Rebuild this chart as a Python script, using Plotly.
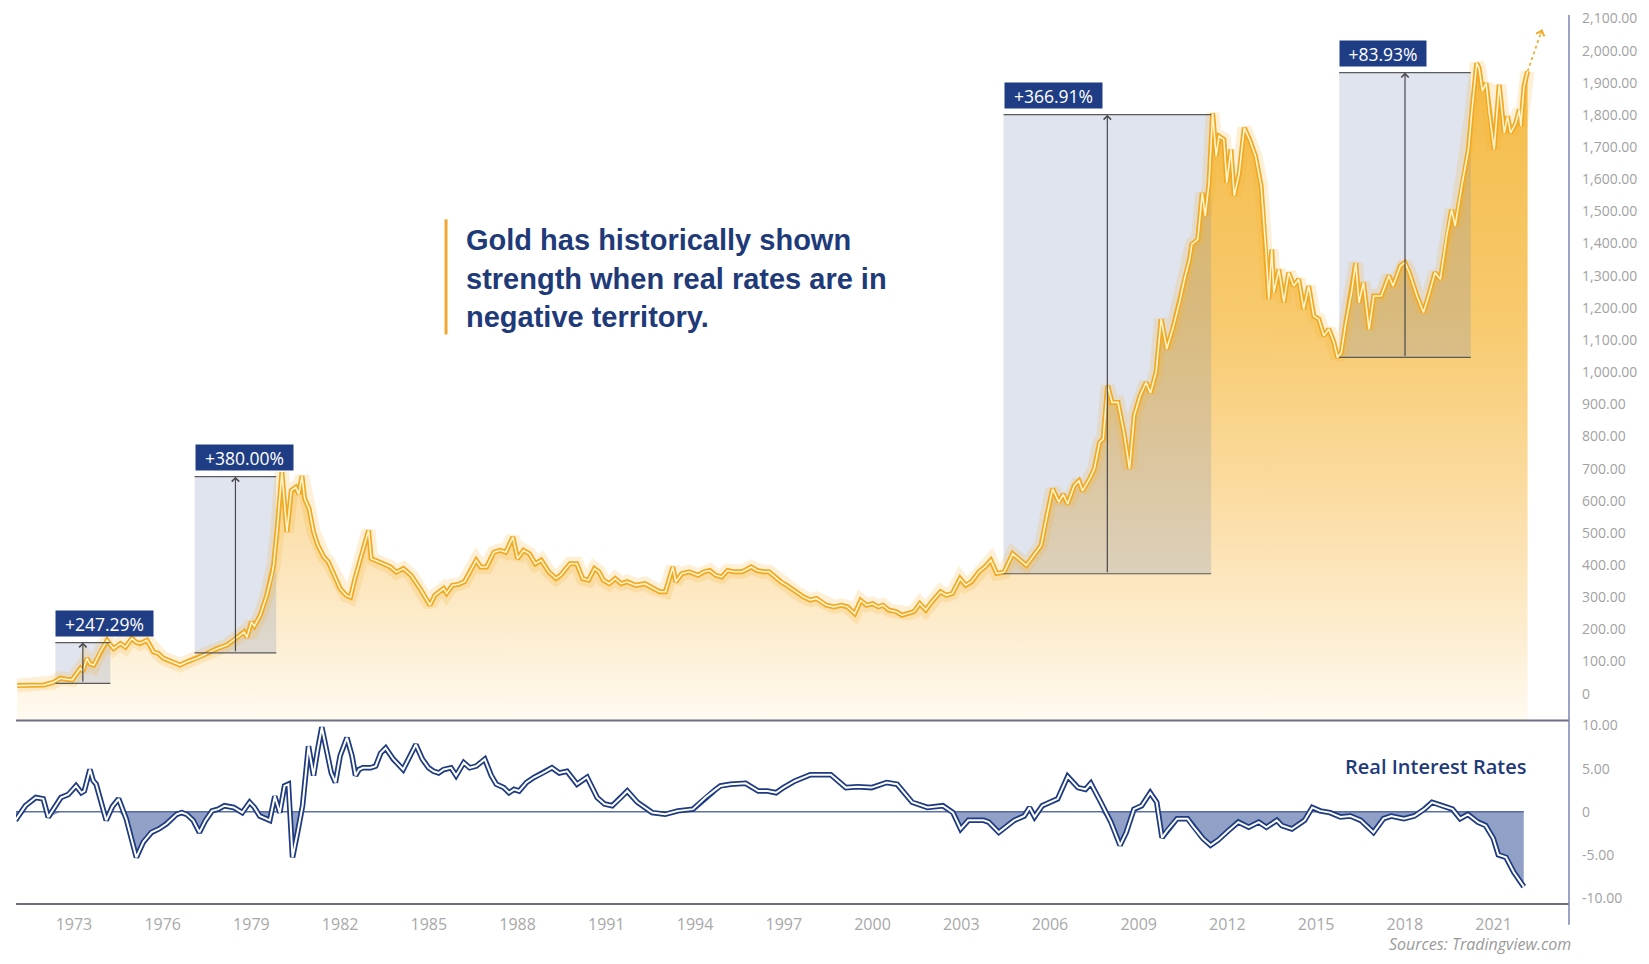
import plotly.graph_objects as go

# ---------------- data ----------------
gold_years = [1971.08, 1971.5, 1971.98, 1972.3, 1972.54, 1972.75, 1972.94, 1973.22, 1973.3, 1973.44,
              1973.55, 1973.67, 1973.89, 1974.12, 1974.25, 1974.34, 1974.57, 1974.74, 1974.96, 1975.1,
              1975.24, 1975.47, 1975.69, 1975.85, 1976.03, 1976.3, 1976.59, 1976.82, 1977.16, 1977.5,
              1977.83, 1978.17, 1978.4, 1978.62, 1978.75, 1978.85, 1979.0, 1979.1, 1979.3, 1979.52,
              1979.69, 1979.75, 1979.88, 1980.03, 1980.2, 1980.35, 1980.5, 1980.6, 1980.71, 1980.8,
              1980.95, 1981.1, 1981.25, 1981.45, 1981.6, 1981.8, 1982.0, 1982.2, 1982.35, 1982.5,
              1982.7, 1982.96, 1983.05, 1983.2, 1983.46, 1983.7, 1983.9, 1984.14, 1984.4, 1984.7,
              1985.04, 1985.2, 1985.38, 1985.5, 1985.6, 1985.8, 1986.0, 1986.2, 1986.6, 1986.75,
              1986.95, 1987.2, 1987.4, 1987.6, 1987.84, 1988.0, 1988.2, 1988.4, 1988.6, 1988.8,
              1989.05, 1989.3, 1989.45, 1989.77, 1990.0, 1990.2, 1990.4, 1990.6, 1990.75, 1990.9,
              1991.1, 1991.3, 1991.5, 1991.7, 1992.0, 1992.3, 1992.6, 1992.8, 1993.0, 1993.25,
              1993.35, 1993.55, 1993.8, 1994.1, 1994.3, 1994.5, 1994.7, 1994.9, 1995.1, 1995.3,
              1995.6, 1995.9, 1996.1, 1996.3, 1996.5, 1996.7, 1996.9, 1997.1, 1997.4, 1997.66,
              1997.9, 1998.1, 1998.44, 1998.7, 1998.95, 1999.15, 1999.4, 1999.6, 1999.8, 2000.0,
              2000.2, 2000.35, 2000.55, 2000.8, 2001.0, 2001.2, 2001.4, 2001.6, 2001.8, 2002.0,
              2002.3, 2002.5, 2002.7, 2002.96, 2003.15, 2003.35, 2003.6, 2003.8, 2004.0, 2004.2,
              2004.45, 2004.74, 2005.0, 2005.2, 2005.45, 2005.7, 2005.9, 2006.09, 2006.3, 2006.45,
              2006.6, 2006.82, 2006.98, 2007.1, 2007.34, 2007.5, 2007.68, 2007.8, 2007.95, 2008.1,
              2008.3, 2008.5, 2008.69, 2008.85, 2009.05, 2009.25, 2009.4, 2009.59, 2009.76, 2009.95,
              2010.15, 2010.38, 2010.55, 2010.72, 2010.8, 2011.0, 2011.15, 2011.25, 2011.38, 2011.5,
              2011.62, 2011.72, 2011.88, 2011.98, 2012.12, 2012.23, 2012.4, 2012.57, 2012.75, 2012.95,
              2013.14, 2013.3, 2013.4, 2013.5, 2013.57, 2013.74, 2013.91, 2014.07, 2014.24, 2014.41,
              2014.58, 2014.75, 2014.92, 2015.09, 2015.26, 2015.43, 2015.6, 2015.72, 2015.85, 2016.0,
              2016.2, 2016.34, 2016.45, 2016.6, 2016.79, 2016.95, 2017.2, 2017.46, 2017.6, 2017.85,
              2018.0, 2018.15, 2018.41, 2018.63, 2018.8, 2019.02, 2019.2, 2019.41, 2019.58, 2019.7,
              2019.92, 2020.15, 2020.26, 2020.43, 2020.51, 2020.62, 2020.75, 2020.85, 2021.02, 2021.19,
              2021.36, 2021.47, 2021.58, 2021.75, 2021.87, 2021.92, 2022.03, 2022.15]
gold_price = [25, 26, 27, 35, 48, 45, 43, 79, 70, 110,
              92, 89, 130, 166, 150, 140, 156, 145, 172, 160,
              156, 166, 130, 125, 110, 100, 89, 99, 110, 125,
              140, 151, 166, 182, 192, 175, 223, 210, 244, 306,
              369, 400, 520, 689, 503, 632, 642, 620, 677, 606,
              575, 503, 461, 425, 410, 368, 327, 306, 300, 358,
              420, 508, 420, 415, 404, 394, 378, 389, 368, 327,
              275, 306, 317, 327, 312, 337, 340, 348, 415, 394,
              394, 440, 446, 440, 487, 420, 446, 435, 404, 415,
              379, 358, 368, 404, 404, 358, 353, 389, 379, 353,
              342, 358, 342, 348, 337, 342, 327, 317, 317, 394,
              348, 373, 379, 368, 379, 383, 368, 363, 383, 379,
              379, 394, 383, 379, 379, 363, 348, 337, 317, 301,
              291, 296, 275, 270, 275, 270, 249, 290, 275, 280,
              270, 275, 260, 255, 244, 250, 255, 280, 260, 285,
              317, 306, 312, 358, 337, 348, 379, 394, 415, 374,
              378, 435, 415, 399, 430, 461, 555, 637, 596, 620,
              590, 647, 662, 631, 668, 699, 782, 792, 958, 906,
              906, 813, 699, 865, 927, 968, 935, 1000, 1165, 1072,
              1134, 1217, 1289, 1351, 1398, 1413, 1558, 1486, 1589, 1806,
              1672, 1734, 1724, 1589, 1693, 1548, 1620, 1760, 1724, 1672,
              1579, 1382, 1227, 1382, 1248, 1320, 1217, 1310, 1268, 1289,
              1196, 1268, 1175, 1165, 1113, 1134, 1093, 1046, 1060, 1150,
              1250, 1340, 1216, 1280, 1133, 1237, 1237, 1300, 1268, 1331,
              1341, 1310, 1237, 1186, 1237, 1310, 1289, 1423, 1506, 1455,
              1578, 1692, 1806, 1961, 1946, 1874, 1899, 1810, 1692, 1894,
              1744, 1796, 1744, 1775, 1817, 1765, 1889, 1936]

rate_years = [1971.02, 1971.36, 1971.71, 1971.96, 1972.13, 1972.56, 1972.81, 1973.07, 1973.25, 1973.35,
              1973.54, 1973.65, 1973.75, 1973.92, 1974.09, 1974.3, 1974.51, 1974.77, 1975.11, 1975.35,
              1975.62, 1975.87, 1976.13, 1976.47, 1976.64, 1976.81, 1977.03, 1977.24, 1977.45, 1977.67,
              1977.88, 1978.09, 1978.4, 1978.69, 1978.94, 1979.1, 1979.28, 1979.62, 1979.79, 1979.96,
              1980.12, 1980.25, 1980.39, 1980.56, 1980.73, 1980.93, 1981.1, 1981.24, 1981.38, 1981.58,
              1981.7, 1981.84, 1982.0, 1982.23, 1982.4, 1982.52, 1982.64, 1982.77, 1983.03, 1983.2,
              1983.37, 1983.54, 1983.8, 1984.13, 1984.4, 1984.56, 1984.78, 1984.99, 1985.16, 1985.33,
              1985.5, 1985.75, 1985.92, 1986.18, 1986.38, 1986.6, 1986.89, 1987.11, 1987.28, 1987.53,
              1987.71, 1987.88, 1988.05, 1988.3, 1988.56, 1988.86, 1989.16, 1989.41, 1989.67, 1990.01,
              1990.35, 1990.69, 1990.94, 1991.2, 1991.45, 1991.71, 1992.05, 1992.3, 1992.55, 1992.99,
              1993.42, 1993.93, 1994.35, 1994.7, 1994.86, 1995.2, 1995.71, 1996.14, 1996.45, 1996.74,
              1996.99, 1997.38, 1997.9, 1998.59, 1999.1, 1999.5, 1999.97, 2000.48, 2000.83, 2001.34,
              2001.86, 2002.38, 2002.72, 2002.98, 2003.24, 2003.76, 2003.93, 2004.27, 2004.79, 2005.13,
              2005.31, 2005.48, 2005.74, 2006.0, 2006.26, 2006.6, 2006.95, 2007.2, 2007.38, 2007.72,
              2008.06, 2008.37, 2008.58, 2008.84, 2009.1, 2009.39, 2009.61, 2009.79, 2009.96, 2010.3,
              2010.65, 2010.82, 2011.17, 2011.43, 2011.68, 2012.03, 2012.37, 2012.72, 2013.06, 2013.32,
              2013.67, 2013.84, 2014.18, 2014.61, 2014.87, 2015.13, 2015.47, 2015.82, 2016.16, 2016.51,
              2016.94, 2017.28, 2017.54, 2017.97, 2018.32, 2018.66, 2018.92, 2019.26, 2019.61, 2019.87,
              2020.13, 2020.47, 2020.73, 2020.99, 2021.16, 2021.42, 2021.68, 2022.02]
rate_value = [-1.0, 0.7, 1.65, 1.5, -0.65, 1.65, 2.0, 3.0, 2.2, 2.4,
              4.9, 3.6, 3.2, 1.1, -1.0, 0.6, 1.5, -0.85, -5.3, -3.5,
              -2.4, -2.0, -1.4, -0.3, -0.1, -0.3, -1.0, -2.4, -1.0, 0.1,
              0.3, 0.7, 0.5, -0.1, 1.1, 0.5, -0.5, -1.0, 1.8, -0.1,
              3.0, 3.2, -5.3, -2.4, 0.7, 7.6, 4.2, 7.2, 9.8, 6.5,
              4.5, 3.4, 6.5, 8.6, 6.5, 4.2, 4.9, 5.1, 5.1, 5.3,
              6.8, 7.4, 6.1, 4.9, 6.8, 7.8, 6.1, 5.1, 4.7, 4.5,
              4.9, 5.1, 4.2, 5.7, 5.1, 5.3, 6.1, 4.2, 3.2, 2.8,
              2.2, 2.6, 2.4, 3.4, 4.0, 4.5, 5.1, 4.5, 4.7, 3.2,
              4.0, 1.65, 0.9, 0.7, 1.5, 2.4, 1.1, 0.5, -0.1, -0.3,
              0.1, 0.3, 1.65, 2.6, 3.0, 3.2, 3.3, 2.4, 2.4, 2.2,
              2.8, 3.57, 4.3, 4.3, 2.8, 2.9, 2.8, 3.4, 3.2, 1.1,
              0.5, 0.7, -0.1, -2.0, -1.0, -1.0, -1.2, -2.4, -1.0, -0.5,
              0.5, -0.6, 0.7, 1.1, 1.5, 4.1, 2.8, 2.6, 3.3, 1.1,
              -1.2, -3.9, -2.4, 0.3, 0.7, 2.2, 1.1, -3.0, -2.2, -0.8,
              -0.8, -1.6, -3.1, -3.9, -3.3, -2.2, -1.2, -1.8, -1.2, -1.8,
              -1.0, -1.6, -2.0, -1.0, 0.5, 0.1, -0.1, -0.6, -0.5, -1.0,
              -2.4, -0.8, -0.5, -0.8, -0.5, 0.3, 1.1, 0.7, 0.3, -0.8,
              -0.3, -1.2, -1.6, -3.1, -5.0, -5.3, -7.0, -8.7]

box_start = [1972.37, 1977.08, 2004.43, 2015.78]
box_end = [1974.23, 1979.84, 2011.45, 2020.23]
box_low = [32, 127, 373, 1046]
box_high = [159, 675, 1801, 1932]
box_label = ["+247.29%", "+380.00%", "+366.91%", "+83.93%"]

arrow_tip = (2022.64, 2066)

comment_lines = ["Gold has historically shown", "strength when real rates are in", "negative territory."]

year_ticks = [1973, 1976, 1979, 1982, 1985, 1988, 1991, 1994, 1997, 2000, 2003, 2006, 2009, 2012, 2015, 2018, 2021]
year_labels = [str(y) for y in year_ticks]
price_ticks = [0, 100, 200, 300, 400, 500, 600, 700, 800, 900, 1000, 1100, 1200, 1300, 1400, 1500,
               1600, 1700, 1800, 1900, 2000, 2100]
price_labels = ["0" if v == 0 else f"{v:,.2f}" for v in price_ticks]
rate_ticks = [-10, -5, 0, 5, 10]
rate_labels = ["-10.00", "-5.00", "0", "5.00", "10.00"]

# ---------------- styling ----------------
NAVY = "#1e3b80"
GOLD = "#f1a922"
GOLD_CORE = "#fff4cc"
LABEL_GREY = "#a2a2a2"
XRANGE = [1971.04, 2023.55]
Y1RANGE = [-83.3, 2111.1]
Y2RANGE = [-10.71, 10.6]
SPLIT = 0.2065

fig = go.Figure()

# baseline for gold fill (bottom of upper panel)
fig.add_trace(go.Scatter(x=gold_years, y=[Y1RANGE[0]] * len(gold_years), mode="lines",
                         line=dict(width=0), hoverinfo="skip", showlegend=False,
                         xaxis="x", yaxis="y"))
# gold gradient area
fig.add_trace(go.Scatter(x=gold_years, y=gold_price, mode="none", fill="tonexty",
                         fillgradient=dict(type="vertical", start=Y1RANGE[0], stop=2000,
                                           colorscale=[[0.0, "rgba(255,251,243,1)"],
                                                       [0.15, "rgba(253,236,205,1)"],
                                                       [0.35, "rgba(251,219,160,1)"],
                                                       [0.6, "rgba(248,202,110,1)"],
                                                       [1.0, "rgba(244,186,68,1)"]]),
                         hoverinfo="skip", showlegend=False, xaxis="x", yaxis="y"))

# measurement boxes (semi-transparent overlay)
for s, e, lo, hi in zip(box_start, box_end, box_low, box_high):
    fig.add_trace(go.Scatter(x=[s, e, e, s, s], y=[lo, lo, hi, hi, lo], mode="lines",
                             fill="toself", fillcolor="rgba(118,138,188,0.23)",
                             line=dict(width=0), hoverinfo="skip", showlegend=False,
                             xaxis="x", yaxis="y"))

# gold line: glow, outer, core
fig.add_trace(go.Scatter(x=gold_years, y=gold_price, mode="lines",
                         line=dict(color="rgba(245,180,50,0.2)", width=14),
                         hoverinfo="skip", showlegend=False, xaxis="x", yaxis="y"))
fig.add_trace(go.Scatter(x=gold_years, y=gold_price, mode="lines",
                         line=dict(color=GOLD, width=5),
                         hoverinfo="skip", showlegend=False, xaxis="x", yaxis="y"))
fig.add_trace(go.Scatter(x=gold_years, y=gold_price, mode="lines",
                         line=dict(color=GOLD_CORE, width=1.6),
                         name="Gold", showlegend=False, xaxis="x", yaxis="y"))

# real rates: negative fill, outer, core
neg = [min(v, 0) for v in rate_value]
fig.add_trace(go.Scatter(x=rate_years, y=neg, mode="lines", fill="tozeroy",
                         fillcolor="rgba(72,96,160,0.6)", line=dict(width=0),
                         hoverinfo="skip", showlegend=False, xaxis="x2", yaxis="y2"))
fig.add_trace(go.Scatter(x=rate_years, y=rate_value, mode="lines",
                         line=dict(color=NAVY, width=5.5),
                         hoverinfo="skip", showlegend=False, xaxis="x2", yaxis="y2"))
fig.add_trace(go.Scatter(x=rate_years, y=rate_value, mode="lines",
                         line=dict(color="white", width=2),
                         name="Real Interest Rates", showlegend=False, xaxis="x2", yaxis="y2"))

shapes = []
annotations = []
for s, e, lo, hi, lab in zip(box_start, box_end, box_low, box_high, box_label):
    for yv in (lo, hi):
        shapes.append(dict(type="line", xref="x", yref="y", x0=s, x1=e, y0=yv, y1=yv,
                           line=dict(color="#5a5a5a", width=1.2), layer="above"))
    mid = (s + e) / 2
    annotations.append(dict(xref="x", yref="y", x=mid, y=hi, axref="x", ayref="y", ax=mid, ay=lo,
                            text="", showarrow=True, arrowhead=4, arrowsize=1.2, arrowwidth=1.2,
                            arrowcolor="#4a4a4a", standoff=0))
    annotations.append(dict(xref="x", yref="y", x=s, y=hi, xanchor="left", yanchor="bottom",
                            yshift=6, text=lab, showarrow=False, bgcolor="#1f3d85",
                            width=11 * len(lab) + 7, height=23, align="center",
                            font=dict(family="Open Sans", size=17.5, color="white")))

# dotted projection arrow at the end of gold series
shapes.append(dict(type="line", xref="x", yref="y", x0=gold_years[-1], y0=gold_price[-1],
                   x1=arrow_tip[0], y1=arrow_tip[1],
                   line=dict(color=GOLD, width=1.6, dash="dot"), layer="above"))
annotations.append(dict(xref="x", yref="y", x=arrow_tip[0], y=arrow_tip[1], ax=-2, ay=6,
                        text="", showarrow=True, arrowhead=4, arrowsize=1.3, arrowwidth=1.3,
                        arrowcolor=GOLD, standoff=0))

# zero line in lower panel
shapes.append(dict(type="line", xref="x2", yref="y2", x0=XRANGE[0] - 0.1, x1=rate_years[-1], y0=0, y1=0,
                   line=dict(color="#5c70a8", width=1.5), layer="below"))
# panel separator and bottom line
shapes.append(dict(type="line", xref="paper", yref="paper", x0=0, x1=1, y0=SPLIT, y1=SPLIT,
                   line=dict(color="#6c6e82", width=2)))
shapes.append(dict(type="line", xref="paper", yref="paper", x0=0, x1=1, y0=0, y1=0,
                   line=dict(color="#6c6e82", width=2)))
# right vertical axis line
shapes.append(dict(type="line", xref="paper", yref="paper", x0=1, x1=1, y0=-0.0234, y1=1.0,
                   line=dict(color="#7b85b3", width=1.5)))
# orange accent bar beside the comment
shapes.append(dict(type="line", xref="paper", yref="paper", x0=0.2769, x1=0.2769, y0=0.6407, y1=0.7701,
                   line=dict(color="#f0a830", width=3)))

for line_text, ypos in zip(comment_lines, [0.7470, 0.7035, 0.6600]):
    annotations.append(dict(xref="paper", yref="paper", x=0.2885, y=ypos, xanchor="left", yanchor="middle",
                            align="left", showarrow=False, text=f"<b>{line_text}</b>",
                            font=dict(family="Liberation Sans, Arial", size=29, color="#1f3a78")))
annotations.append(dict(xref="x2", yref="y2", x=2022.15, y=5.3, xanchor="right", yanchor="middle",
                        showarrow=False, text="Real Interest Rates",
                        font=dict(family="Open Sans", size=20, color="#1f3a78", weight=600)))
annotations.append(dict(xref="paper", yref="paper", x=1.0026, y=-0.0446, xanchor="right", yanchor="middle",
                        showarrow=False, text="<i>Sources: Tradingview.com</i>",
                        font=dict(family="Open Sans", size=16, color="#9a9a9a")))

fig.update_layout(
    width=1633, height=948,
    margin=dict(l=8, r=72, t=0, b=52),
    paper_bgcolor="white", plot_bgcolor="white",
    showlegend=False,
    xaxis=dict(domain=[0, 1], anchor="y", range=XRANGE, visible=False),
    yaxis=dict(domain=[SPLIT, 1], anchor="x", range=Y1RANGE, side="right",
               tickvals=price_ticks, ticktext=price_labels, showgrid=False, zeroline=False,
               showline=False, ticks="", ticklabelstandoff=12, ticklabeloverflow="allow",
               tickfont=dict(family="Open Sans", size=14, color=LABEL_GREY)),
    xaxis2=dict(domain=[0, 1], anchor="y2", range=XRANGE, matches="x",
                tickvals=year_ticks, ticktext=year_labels, showgrid=False, zeroline=False,
                showline=False, ticks="", ticklabelstandoff=9,
                tickfont=dict(family="Open Sans", size=16, color="#a8a8a8")),
    yaxis2=dict(domain=[0, SPLIT], anchor="x2", range=Y2RANGE, side="right",
                tickvals=rate_ticks, ticktext=rate_labels, showgrid=False, zeroline=False,
                showline=False, ticks="", ticklabelstandoff=12,
                tickfont=dict(family="Open Sans", size=14, color=LABEL_GREY)),
    shapes=shapes,
    annotations=annotations,
)

fig.write_html("out.html")
